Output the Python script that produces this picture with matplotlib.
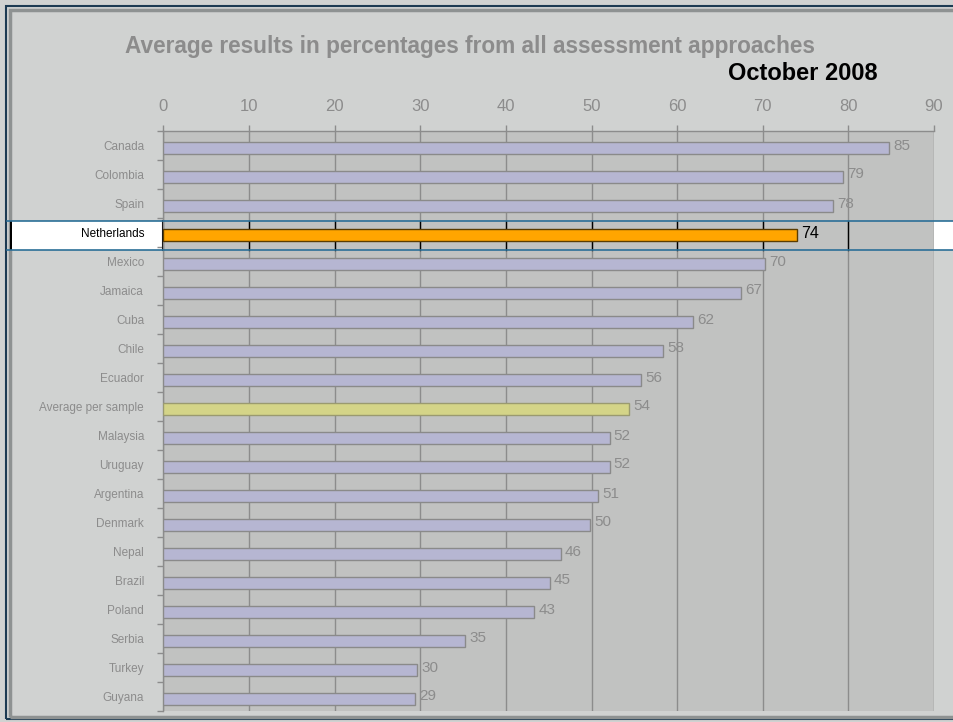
import numpy as np
import matplotlib
matplotlib.use("Agg")
import matplotlib.pyplot as plt
from matplotlib.patches import Rectangle
from matplotlib.lines import Line2D
from matplotlib.transforms import blended_transform_factory

plt.rcParams['font.family'] = ['Liberation Sans', 'DejaVu Sans']

categories = ["Canada", "Colombia", "Spain", "Netherlands", "Mexico", "Jamaica",
              "Cuba", "Chile", "Ecuador", "Average per sample", "Malaysia", "Uruguay",
              "Argentina", "Denmark", "Nepal", "Brazil", "Poland", "Serbia",
              "Turkey", "Guyana"]
values = [84.7, 79.4, 78.2, 74.0, 70.3, 67.4, 61.8, 58.4, 55.8, 54.4, 52.1, 52.1,
          50.8, 49.8, 46.4, 45.1, 43.3, 35.2, 29.6, 29.4]
value_labels = ["85", "79", "78", "74", "70", "67", "62", "58", "56", "54", "52", "52",
                "51", "50", "46", "45", "43", "35", "30", "29"]
xticks = [0, 10, 20, 30, 40, 50, 60, 70, 80, 90]
title = "Average results in percentages from all assessment approaches"
subtitle = "October 2008"
highlight = "Netherlands"
average_label = "Average per sample"

W, H = 954, 722
fig = plt.figure(figsize=(W / 100, H / 100), dpi=100)
fig.patch.set_facecolor("#d0d2d1")

def fx(px):
    return px / W

def fy(py):
    return 1 - py / H

# outer frame
fig.patches.append(Rectangle((fx(6.5), fy(719)), fx(960) - fx(6.5), fy(5.5) - fy(719),
                             transform=fig.transFigure, fill=False, edgecolor="#1c3a52",
                             linewidth=1.5, zorder=-3))
fig.patches.append(Rectangle((fx(10.5), fy(717)), fx(960) - fx(10.5), fy(9.5) - fy(717),
                             transform=fig.transFigure, fill=False, edgecolor="#8e9292",
                             linewidth=2.5, zorder=-3))

ax = fig.add_axes([fx(163.5), fy(711), fx(934) - fx(163.5), fy(131) - fy(711)])
ax.set_facecolor("#c1c2c1")

n = len(categories)
y = np.arange(n)
offset = 0.08
colors = []
edges = []
for c in categories:
    if c == highlight:
        colors.append("#ffa500"); edges.append("#5a3c00")
    elif c == average_label:
        colors.append("#d4d488"); edges.append("#9a9a70")
    else:
        colors.append("#b6b6d2"); edges.append("#8a8a8a")

ax.barh(y + offset, values, height=0.4, color=colors, edgecolor=edges, linewidth=1.0,
        zorder=3)

ax.set_xlim(0, 90)
ax.set_ylim(n - 0.5, -0.5)
ax.xaxis.tick_top()
ax.set_xticks(xticks)
ax.set_xticklabels([str(t) for t in xticks])
ax.tick_params(axis="x", which="major", colors="#8c8c8c", labelcolor="#8c8c8c",
               labelsize=12, length=4, pad=8, width=1)
ax.grid(axis="x", color="#8c8c8c", linewidth=1, zorder=1)
ax.set_axisbelow(True)

ax.set_yticks(y)
ax.set_yticklabels(categories)
ax.set_yticks(np.arange(n + 1) - 0.5, minor=True)
ax.tick_params(axis="y", which="major", length=0, pad=14, labelsize=8.5,
               labelcolor="#8c8c8c")
ax.tick_params(axis="y", which="minor", length=4, color="#8c8c8c", width=1)
for lbl in ax.get_yticklabels():
    if lbl.get_text() == highlight:
        lbl.set_color("black")

for s in ["right", "bottom"]:
    ax.spines[s].set_visible(False)
for s in ["top", "left"]:
    ax.spines[s].set_color("#8c8c8c")
    ax.spines[s].set_linewidth(1)

# value labels
for i, (v, lab) in enumerate(zip(values, value_labels)):
    if categories[i] == highlight:
        ax.text(v + 0.5, i + 0.02, lab, va="center", ha="left", fontsize=11.5,
                color="black", zorder=4)
    else:
        ax.text(v + 0.5, i, lab, va="center", ha="left", fontsize=11,
                color="#8c8c8c", zorder=4)

# highlight band for Netherlands
hi = categories.index(highlight)
btr = blended_transform_factory(fig.transFigure, ax.transData)
y0 = hi - 0.5 + 0.12
y1 = hi + 0.5 + 0.12
band = Rectangle((fx(11), y0), 1 - fx(11), y1 - y0, transform=btr,
                 facecolor="white", edgecolor="none", zorder=-2)
fig.patches.append(band)
fig.patches.append(Rectangle((fx(10), y0), fx(12.5) - fx(10), y1 - y0, transform=btr,
                             facecolor="black", edgecolor="none", zorder=-1))
for yy in (y0, y1):
    fig.lines.append(Line2D([fx(7), 1], [yy, yy], transform=btr, color="#2b6f97",
                            linewidth=1.2, zorder=5))
for t in xticks[1:-1]:
    ax.plot([t, t], [y0, y1], color="black", linewidth=1, zorder=2)
ax.plot([0, 0], [y0, y1], color="black", linewidth=1.5, zorder=2, clip_on=False)

# titles
fig.text(fx(470), fy(46), title, ha="center", va="center", fontsize=16.3,
         fontweight="bold", color="#8c8c8c")
fig.text(fx(803), fy(74), subtitle, ha="center", va="center", fontsize=17,
         fontweight="bold", color="black")

fig.savefig("out.png", dpi=100, facecolor=fig.get_facecolor())
